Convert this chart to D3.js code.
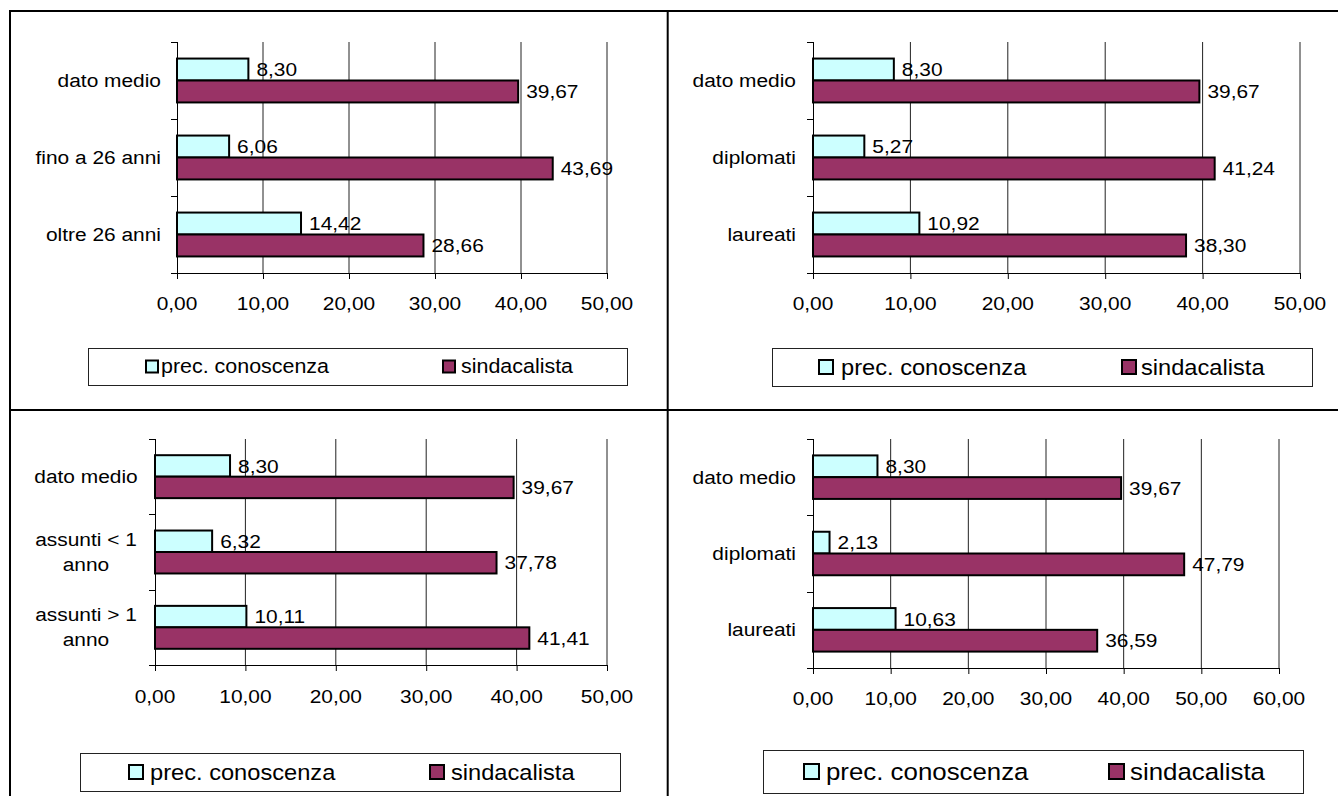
<!DOCTYPE html>
<html>
<head>
<meta charset="utf-8">
<script src="https://cdn.jsdelivr.net/npm/d3@7/dist/d3.min.js"></script>
<style>
  html, body { margin: 0; padding: 0; background: #fff; }
  svg { display: block; }
  text { font-family: "Liberation Sans", Arial, sans-serif; fill: #000; }
</style>
</head>
<body>
<svg id="chart" width="1338" height="796"></svg>
<script>
// Series names shared by all four charts
const seriesNames = ["prec. conoscenza", "sindacalista"];
const seriesColors = ["#CCFFFF", "#993366"];

// Età
const catsEta = [["dato medio"], ["fino a 26 anni"], ["oltre 26 anni"]];
const precEta = [8.30, 6.06, 14.42];
const sindEta = [39.67, 43.69, 28.66];

// Titolo di studio (primo gruppo)
const catsTitoloA = [["dato medio"], ["diplomati"], ["laureati"]];
const precTitoloA = [8.30, 5.27, 10.92];
const sindTitoloA = [39.67, 41.24, 38.30];

// Anzianità di assunzione
const catsAnz = [["dato medio"], ["assunti < 1", "anno"], ["assunti > 1", "anno"]];
const precAnz = [8.30, 6.32, 10.11];
const sindAnz = [39.67, 37.78, 41.41];

// Titolo di studio (secondo gruppo)
const catsTitoloB = [["dato medio"], ["diplomati"], ["laureati"]];
const precTitoloB = [8.30, 2.13, 10.63];
const sindTitoloB = [39.67, 47.79, 36.59];

// Axis ticks
const ticks50 = [0, 10, 20, 30, 40, 50];
const ticks60 = [0, 10, 20, 30, 40, 50, 60];

const fmt = v => v.toFixed(2).replace(".", ",");
const SX = 1.1; // horizontal stretch of the typeface

const svg = d3.select("#chart");

// Outer frame and quadrant dividers
const frame = svg.append("g").attr("stroke", "#000").attr("stroke-width", 2);
frame.append("line").attr("x1", 10).attr("y1", 10).attr("x2", 10).attr("y2", 796);
frame.append("line").attr("x1", 9).attr("y1", 11).attr("x2", 1338).attr("y2", 11);
frame.append("line").attr("x1", 667.7).attr("y1", 11).attr("x2", 667.7).attr("y2", 796);
frame.append("line").attr("x1", 9).attr("y1", 410).attr("x2", 1338).attr("y2", 410);

function stretchedText(g, x, y, str, size, anchor) {
  return g.append("text")
    .attr("transform", `translate(${x},${y}) scale(${SX},1)`)
    .attr("text-anchor", anchor)
    .attr("dy", "0.35em")
    .style("font-size", size + "px")
    .text(str);
}

function drawPanel(cfg) {
  const g = svg.append("g");
  const x = d3.scaleLinear().domain([0, cfg.max]).range([cfg.x0, cfg.x1]);
  const y = d3.scaleBand().domain(cfg.cats.map((d, i) => i))
    .range([cfg.y0, cfg.y1]).paddingInner(0.43).paddingOuter(0.215);
  const ys = d3.scaleBand().domain([0, 1]).range([0, y.bandwidth()]);

  // vertical gridlines
  g.append("g").selectAll("line").data(cfg.ticks.slice(1)).join("line")
    .attr("x1", d => x(d)).attr("x2", d => x(d))
    .attr("y1", cfg.y0).attr("y2", cfg.y1)
    .attr("stroke", "#222").attr("stroke-width", 1);

  // value axis
  const xAxis = d3.axisBottom(x).tickValues(cfg.ticks).tickSize(6).tickFormat("");
  const xa = g.append("g").attr("transform", `translate(0,${cfg.y1})`).call(xAxis);
  xa.select(".domain").remove();
  xa.selectAll("line").attr("stroke", "#000");
  g.append("line").attr("x1", cfg.x0 - 6).attr("x2", cfg.x1)
    .attr("y1", cfg.y1 + 0.5).attr("y2", cfg.y1 + 0.5).attr("stroke", "#000");
  cfg.ticks.forEach(t => stretchedText(g, x(t), cfg.tickY, fmt(t), 19, "middle"));

  // category axis
  const boundaries = cfg.cats.map((d, i) => cfg.y0 + i * y.step()).concat([cfg.y1]);
  g.append("line").attr("x1", cfg.x0 + 0.5).attr("x2", cfg.x0 + 0.5)
    .attr("y1", cfg.y0).attr("y2", cfg.y1 + 6).attr("stroke", "#000");
  g.append("g").selectAll("line").data(boundaries).join("line")
    .attr("x1", cfg.x0 - 6).attr("x2", cfg.x0)
    .attr("y1", d => Math.round(d) + 0.5).attr("y2", d => Math.round(d) + 0.5)
    .attr("stroke", "#000");

  cfg.cats.forEach((lines, i) => {
    const cy = y(i) + y.bandwidth() / 2;
    const lh = 25;
    lines.forEach((ln, j) => {
      const ly = cy + (j - (lines.length - 1) / 2) * lh;
      if (cfg.labelAnchor === "middle") stretchedText(g, cfg.labelX, ly, ln, 19, "middle");
      else stretchedText(g, cfg.labelX, ly, ln, 19, "end");
    });
  });

  // bars
  const series = [cfg.prec, cfg.sind];
  series.forEach((vals, s) => {
    g.append("g").selectAll("rect").data(vals).join("rect")
      .attr("x", x(0))
      .attr("y", (d, i) => y(i) + ys(s))
      .attr("width", d => x(d) - x(0))
      .attr("height", ys.bandwidth())
      .attr("fill", seriesColors[s])
      .attr("stroke", "#000").attr("stroke-width", 2);
    vals.forEach((v, i) => {
      stretchedText(g, x(v) + 8, y(i) + ys(s) + ys.bandwidth() / 2, fmt(v), 19, "start");
    });
  });

  // legend
  const L = cfg.legend;
  g.append("rect").attr("x", L.x + 0.5).attr("y", L.y + 0.5).attr("width", L.w).attr("height", L.h)
    .attr("fill", "#fff").attr("stroke", "#222").attr("stroke-width", 1);
  const ly = L.y + L.h / 2;
  seriesNames.forEach((name, s) => {
    g.append("rect").attr("x", L.sq[s]).attr("y", ly - L.size / 2)
      .attr("width", L.size).attr("height", L.size)
      .attr("fill", seriesColors[s]).attr("stroke", "#000").attr("stroke-width", 2);
    stretchedText(g, L.tx[s], ly, name, L.font, "start");
  });
}

drawPanel({
  cats: catsEta, prec: precEta, sind: sindEta, max: 50, ticks: ticks50,
  x0: 177, x1: 607, y0: 42, y1: 273, tickY: 303, labelX: 161, labelAnchor: "end",
  legend: { x: 88, y: 348, w: 539, h: 37, sq: [146, 443], tx: [161, 461], size: 12, font: 19.5 }
});
drawPanel({
  cats: catsTitoloA, prec: precTitoloA, sind: sindTitoloA, max: 50, ticks: ticks50,
  x0: 813, x1: 1300, y0: 42, y1: 273, tickY: 303, labelX: 796, labelAnchor: "end",
  legend: { x: 772, y: 348, w: 540, h: 38, sq: [819, 1122], tx: [841, 1141], size: 14, font: 21.5 }
});
drawPanel({
  cats: catsAnz, prec: precAnz, sind: sindAnz, max: 50, ticks: ticks50,
  x0: 155, x1: 607, y0: 439, y1: 665, tickY: 696, labelX: 86, labelAnchor: "middle",
  legend: { x: 80, y: 753, w: 540, h: 38, sq: [129, 430], tx: [150, 451], size: 14, font: 21.5 }
});
drawPanel({
  cats: catsTitoloB, prec: precTitoloB, sind: sindTitoloB, max: 60, ticks: ticks60,
  x0: 813, x1: 1279, y0: 439, y1: 668, tickY: 698, labelX: 796, labelAnchor: "end",
  legend: { x: 763, y: 750, w: 540, h: 43, sq: [804, 1109], tx: [826, 1130], size: 15, font: 23.5 }
});
</script>
</body>
</html>
